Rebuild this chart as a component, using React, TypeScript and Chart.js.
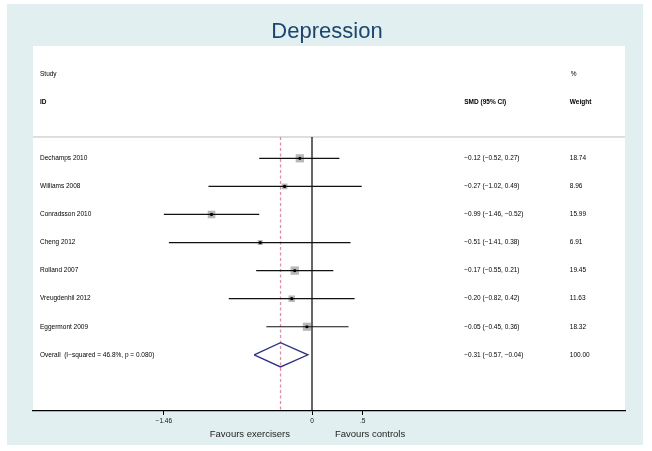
import React, { useEffect, useRef } from 'react';
import { Chart, registerables } from 'chart.js';

Chart.register(...registerables);

// ---- Data ----
const studies = ['Dechamps 2010', 'Williams 2008', 'Conradsson 2010', 'Cheng 2012', 'Rolland 2007', 'Vreugdenhil 2012', 'Eggermont 2009'];
const smd = [-0.12, -0.27, -0.99, -0.51, -0.17, -0.2, -0.05];
const ciLow = [-0.52, -1.02, -1.46, -1.41, -0.55, -0.82, -0.45];
const ciHigh = [0.27, 0.49, -0.52, 0.38, 0.21, 0.42, 0.36];
const weights = [18.74, 8.96, 15.99, 6.91, 19.45, 11.63, 18.32];
const overallLabel = 'Overall  (I\u2212squared = 46.8%, p = 0.080)';
const overallEst = -0.31;
const overallLow = -0.57;
const overallHigh = -0.04;
const overallWeight = 100.0;
const xTicks = [-1.46, 0, 0.5];
const xTickLabels = ['\u22121.46', '0', '.5'];

// ---- Layout constants ----
const X_MIN = -2.749;
const X_MAX = 3.084;
const Y_MIN = -3;
const Y_MAX = 10;
const SEP_ROW = 0.24;
const COL_LABEL = -2.68;
const COL_SMD = 1.5;
const COL_WEIGHT = 2.54;
const FONT = '"Liberation Sans", Arial, Helvetica, sans-serif';

const rows = studies.map((_, i) => i + 1);
const overallRow = studies.length + 1;

const fmt = (v: number) => (v < 0 ? '\u2212' : '') + Math.abs(v).toFixed(2);

const bgPlugin = {
  id: 'bgPlugin',
  beforeDraw(chart: any) {
    const { ctx, chartArea: a, width, height } = chart;
    ctx.save();
    ctx.fillStyle = '#ffffff';
    ctx.fillRect(0, 0, width, height);
    ctx.fillStyle = '#e2eff0';
    ctx.fillRect(7, 4, 636, 441);
    ctx.fillStyle = '#ffffff';
    ctx.fillRect(a.left, a.top, a.right - a.left, a.bottom - a.top);
    ctx.restore();
  },
};

const textPlugin = {
  id: 'textPlugin',
  afterDraw(chart: any) {
    const { ctx } = chart;
    const xs = chart.scales.x;
    const ys = chart.scales.y;
    const px = (v: number) => xs.getPixelForValue(v);
    const py = (v: number) => ys.getPixelForValue(v);
    ctx.save();
    // Title
    ctx.fillStyle = '#1c4670';
    ctx.font = `22px ${FONT}`;
    ctx.textAlign = 'center';
    ctx.textBaseline = 'middle';
    ctx.fillText('Depression', 327, 32);

    // Headers
    ctx.fillStyle = '#000';
    ctx.textAlign = 'left';
    ctx.font = `6.5px ${FONT}`;
    ctx.fillText('Study', px(COL_LABEL), py(-2));
    ctx.fillText('%', px(COL_WEIGHT) + 1, py(-2));
    ctx.font = `bold 6.5px ${FONT}`;
    ctx.fillText('ID', px(COL_LABEL), py(-1));
    ctx.fillText('SMD (95% CI)', px(COL_SMD), py(-1));
    ctx.fillText('Weight', px(COL_WEIGHT), py(-1));

    // Rows
    ctx.font = `6.5px ${FONT}`;
    studies.forEach((s, i) => {
      const y = py(rows[i]);
      ctx.fillText(s, px(COL_LABEL), y);
      ctx.fillText(`${fmt(smd[i])} (${fmt(ciLow[i])}, ${fmt(ciHigh[i])})`, px(COL_SMD), y);
      ctx.fillText(weights[i].toFixed(2), px(COL_WEIGHT), y);
    });
    const yo = py(overallRow);
    ctx.fillText(overallLabel, px(COL_LABEL), yo);
    ctx.fillText(`${fmt(overallEst)} (${fmt(overallLow)}, ${fmt(overallHigh)})`, px(COL_SMD), yo);
    ctx.fillText(overallWeight.toFixed(2), px(COL_WEIGHT), yo);

    // Favours labels
    ctx.font = `9.5px ${FONT}`;
    ctx.fillStyle = '#222';
    const x0 = px(0);
    ctx.textAlign = 'right';
    ctx.fillText('Favours exercisers', x0 - 22, 434);
    ctx.textAlign = 'left';
    ctx.fillText('Favours controls', x0 + 23, 434);
    ctx.restore();
  },
};

export default function App() {
  const ref = useRef<HTMLCanvasElement | null>(null);

  useEffect(() => {
    if (!ref.current) return;
    const boxSide = (w: number) => 1.9 * Math.sqrt(w);
    const datasets: any[] = [];

    // center dots
    datasets.push({
      type: 'scatter',
      data: smd.map((v, i) => ({ x: v, y: rows[i] })),
      pointStyle: 'circle',
      pointRadius: 1.6,
      pointBackgroundColor: '#000',
      pointBorderWidth: 0,
      order: 0,
    });
    // CI lines
    studies.forEach((_, i) => {
      datasets.push({
        type: 'scatter',
        showLine: true,
        data: [
          { x: ciLow[i], y: rows[i] },
          { x: ciHigh[i], y: rows[i] },
        ],
        borderColor: '#111',
        borderWidth: 1.2,
        pointRadius: 0,
        order: 1,
      });
    });
    // weight boxes
    datasets.push({
      type: 'scatter',
      data: smd.map((v, i) => ({ x: v, y: rows[i] })),
      pointStyle: 'rect',
      pointRadius: weights.map((w) => boxSide(w) / (2 * Math.SQRT1_2)),
      pointBackgroundColor: '#b8b8b8',
      pointBorderWidth: 0,
      order: 2,
    });
    // overall diamond
    datasets.push({
      type: 'scatter',
      showLine: true,
      data: [
        { x: overallLow, y: overallRow },
        { x: overallEst, y: overallRow - 0.43 },
        { x: overallHigh, y: overallRow },
        { x: overallEst, y: overallRow + 0.43 },
        { x: overallLow, y: overallRow },
      ],
      borderColor: '#2e3180',
      borderWidth: 1.3,
      pointRadius: 0,
      order: 3,
    });
    // null line
    datasets.push({
      type: 'scatter',
      showLine: true,
      data: [
        { x: 0, y: SEP_ROW },
        { x: 0, y: Y_MAX },
      ],
      borderColor: '#000',
      borderWidth: 1.2,
      pointRadius: 0,
      order: 4,
    });
    // overall estimate dashed line
    datasets.push({
      type: 'scatter',
      showLine: true,
      data: [
        { x: overallEst, y: SEP_ROW },
        { x: overallEst, y: Y_MAX },
      ],
      borderColor: '#dc8fa6',
      borderWidth: 1.3,
      borderDash: [3, 2.5],
      pointRadius: 0,
      order: 5,
    });
    // separator line
    datasets.push({
      type: 'scatter',
      showLine: true,
      data: [
        { x: X_MIN, y: SEP_ROW },
        { x: X_MAX, y: SEP_ROW },
      ],
      borderColor: '#bdbdbd',
      borderWidth: 1,
      pointRadius: 0,
      order: 6,
    });

    const chart = new Chart(ref.current, {
      type: 'scatter',
      data: { datasets },
      options: {
        responsive: false,
        animation: false,
        events: [],
        layout: { padding: { left: 33, right: 27, top: 46, bottom: 0 } },
        plugins: { legend: { display: false }, tooltip: { enabled: false }, title: { display: false } },
        scales: {
          x: {
            type: 'linear',
            min: X_MIN,
            max: X_MAX,
            afterBuildTicks: (s: any) => {
              s.ticks = xTicks.map((v) => ({ value: v }));
            },
            afterFit: (s: any) => {
              s.height = 40;
            },
            ticks: {
              autoSkip: false,
              maxRotation: 0,
              padding: 2,
              color: '#111',
              font: { size: 6.5, family: FONT },
              callback: (_v: any, i: number) => xTickLabels[i],
            },
            grid: { drawOnChartArea: false, drawTicks: true, tickLength: 4, color: '#000', lineWidth: 1 },
            border: { display: true, color: '#000', width: 1.2 },
          },
          y: { type: 'linear', reverse: true, min: Y_MIN, max: Y_MAX, display: false },
        },
      },
      plugins: [bgPlugin, textPlugin],
    } as any);
    return () => chart.destroy();
  }, []);

  return (
    <div style={{ position: 'fixed', left: 0, top: 0, width: 652, height: 451 }}>
      <canvas ref={ref} width={652} height={451} style={{ display: 'block' }} />
    </div>
  );
}
